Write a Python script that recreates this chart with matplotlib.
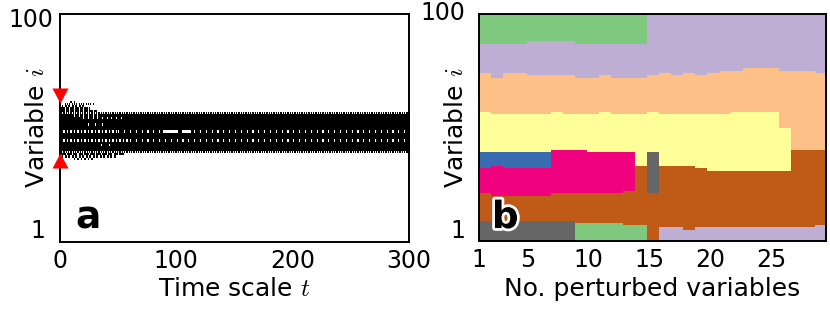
import numpy as np
import matplotlib.pyplot as plt
import matplotlib.patheffects as pe
from matplotlib.colors import ListedColormap

plt.rcParams['font.family'] = ['DejaVu Sans']
plt.rcParams['mathtext.fontset'] = 'cm'

n_var = 100
n_t = 300

# panel a: active segments of each variable
# pattern: 1 = on, k>1 = off every k-th step, -k = on every k-th step, 0 = off
seg_var = [57, 56, 55, 54, 53, 52, 51, 50, 49, 48, 47, 46, 45, 44, 43, 42, 41, 40,
           58, 59, 60, 61, 62, 39, 38, 37, 55, 56, 49, 49, 49, 45, 52, 43]
seg_t0 = [0, 0, 0, 0, 0, 0, 0, 0, 0, 0, 0, 0, 0, 0, 0, 0, 0, 0,
          0, 0, 2, 4, 8, 0, 2, 10, 17, 12, 0, 88, 105, 0, 20, 30]
seg_t1 = [300, 300, 300, 300, 300, 300, 300, 300, 300, 300, 300, 300, 300, 300, 300, 300, 300, 300,
          32, 26, 22, 30, 14, 55, 48, 28, 55, 35, 50, 100, 112, 60, 40, 45]
seg_pat = [2, 1, 1, 1, 1, 1, 1, 1, 5, 1, 1, 1, 5, 1, 1, 1, 1, 2,
           4, 4, 3, -2, -3, 5, 3, -3, 4, 4, 3, 0, 0, 3, 6, 7]

pert_lo, pert_hi = 40, 61

# panel b: cluster of each variable vs number of perturbed variables
n_pert = np.arange(1, 30)
band_names = ['bottom', 'brown', 'gray', 'pink', 'blue', 'yellow', 'orange', 'purple', 'green']
bottom_lab = [7] * 8 + [0] * 6 + [6] + [1] * 14
bottom_top = [9] * 8 + [8] * 4 + [7] * 2 + [0] + [6, 6, 5] + [6] * 10 + [7]
brown_top = [21, 20, 20, 20, 20, 20, 21, 21, 21, 21, 21, 21, 22, 33, 21,
             33, 33, 33, 32, 31, 31, 31, 31, 31, 31, 31, 40, 40, 40]
gray_top = [0] * 14 + [39] + [0] * 14
pink_top = [32, 33, 32, 32, 32, 32, 40, 40, 40, 39, 39, 39, 39] + [0] * 16
blue_top = [39] * 6 + [0] * 23
yellow_top = [57, 56, 56, 56, 56, 56, 57, 56, 56, 56, 57, 56, 56, 56, 57,
              56, 56, 56, 56, 56, 56, 57, 57, 57, 57, 50, 0, 0, 0]
orange_top = [74, 72, 74, 74, 73, 73, 73, 73, 72, 72, 73, 72, 72, 72, 73,
              74, 73, 74, 73, 74, 75, 75, 76, 76, 76, 75, 75, 75, 74]
purple_top = [87, 87, 87, 87, 88, 88, 88, 88, 87, 87, 87, 87, 87, 87] + [100] * 15
green_top = [100] * 29

# Accent colours: 0 green, 1 purple, 2 orange, 3 yellow, 4 blue, 5 pink, 6 brown, 7 gray
accent = ['#7fc97f', '#beaed4', '#fdc086', '#ffff99', '#386cb0', '#f0027f', '#bf5b17', '#666666']
band_lab = {'brown': 6, 'gray': 7, 'pink': 5, 'blue': 4, 'yellow': 3,
            'orange': 2, 'purple': 1, 'green': 0}

# build panel a raster
act = np.zeros((n_var, n_t))
tt = np.arange(n_t)
for v, a, b, p in zip(seg_var, seg_t0, seg_t1, seg_pat):
    sl = slice(a, min(b, n_t))
    t = tt[sl]
    if p == 1:
        val = np.ones(len(t))
    elif p == 0:
        val = np.zeros(len(t))
    elif p > 1:
        val = (t % p != 0).astype(float)
    else:
        val = (t % (-p) == 0).astype(float)
    act[v - 1, sl] = val

# build panel b label matrix
tops = [bottom_top, brown_top, gray_top, pink_top, blue_top, yellow_top,
        orange_top, purple_top, green_top]
labs = np.zeros((n_var, len(n_pert)), dtype=int)
for k in range(len(n_pert)):
    lo = 0
    for name, top in zip(band_names, tops):
        if top[k] <= lo:
            continue
        lab = bottom_lab[k] if name == 'bottom' else band_lab[name]
        labs[lo:top[k], k] = lab
        lo = top[k]

fig = plt.figure(figsize=(8.3, 3.14), dpi=100)
ax1 = fig.add_axes([60 / 830, 72 / 314, 349 / 830, 228 / 314])
ax2 = fig.add_axes([479 / 830, 73 / 314, 347 / 830, 227 / 314])

ax1.imshow(act, cmap='gray_r', vmin=0, vmax=1, aspect='auto', origin='lower',
           extent=[0, n_t, 0.5, n_var + 0.5], interpolation='nearest')
ax1.set_xlim(0, n_t)
ax1.set_ylim(0.5, n_var + 0.5)

down = [(-1.07, 2), (1.07, 2), (0, 0), (-1.07, 2)]
up = [(-1.07, -2), (1.07, -2), (0, 0), (-1.07, -2)]
ax1.plot([0], [pert_hi + 0.5], marker=down, color='#ff0000', markersize=21.6,
         markeredgewidth=0, linestyle='none', clip_on=False, zorder=10)
ax1.plot([0], [pert_lo - 0.5], marker=up, color='#ff0000', markersize=21.6,
         markeredgewidth=0, linestyle='none', clip_on=False, zorder=10)

ax2.imshow(labs, cmap=ListedColormap(accent), vmin=-0.5, vmax=7.5, aspect='auto',
           origin='lower', extent=[1, 29.45, 0.5, n_var + 0.5], interpolation='nearest')
ax2.set_xlim(1, 29.45)
ax2.set_ylim(0.5, n_var + 0.5)

ax1.set_xticks([0, 100, 200, 300])
ax2.set_xticks([1, 5, 10, 15, 20, 25])
for ax in (ax1, ax2):
    ax.set_yticks([])
    ax.tick_params(axis='x', length=0, pad=5, labelsize=17)
    for s in ax.spines.values():
        s.set_linewidth(1.4)

ax1.text(-0.02, 0.974, '100', transform=ax1.transAxes, ha='right', va='center', fontsize=17)
ax1.text(-0.043, 0.048, '1', transform=ax1.transAxes, ha='right', va='center', fontsize=17)
ax2.text(-0.040, 1.004, '100', transform=ax2.transAxes, ha='right', va='center', fontsize=17)
ax2.text(-0.040, 0.044, '1', transform=ax2.transAxes, ha='right', va='center', fontsize=17)

ax1.set_xlabel('Time scale $t$', fontsize=18, va='top')
ax2.set_xlabel('No. perturbed variables', fontsize=18, va='top')
ax1.set_ylabel('Variable $i$', fontsize=18)
ax2.set_ylabel('Variable $i$', fontsize=18)
ax1.xaxis.set_label_coords(0.5, -0.1535)
ax2.xaxis.set_label_coords(0.5, -0.159)
ax1.yaxis.set_label_coords(-0.032, 0.5)
ax2.yaxis.set_label_coords(-0.032, 0.5)

ax1.text(0.043, 0.061, 'a', transform=ax1.transAxes, fontsize=27, fontweight='bold',
         ha='left', va='baseline')
ax2.text(0.037, 0.057, 'b', transform=ax2.transAxes, fontsize=27, fontweight='bold',
         ha='left', va='baseline',
         path_effects=[pe.withStroke(linewidth=4, foreground='white')])

fig.savefig('out.png', dpi=100)
